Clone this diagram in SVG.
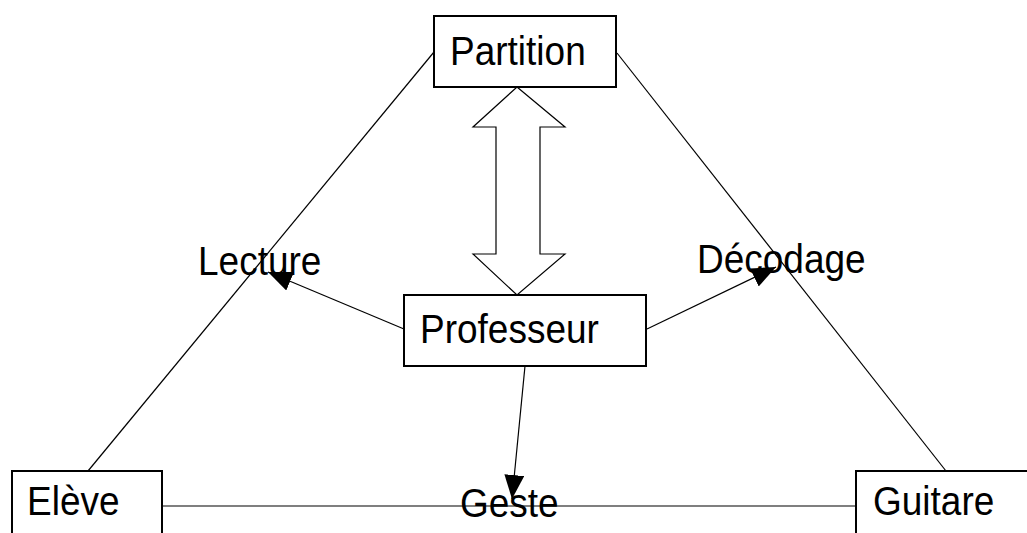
<svg xmlns="http://www.w3.org/2000/svg" width="1027" height="533" viewBox="0 0 1027 533">
<style>
.box{fill:#fff;stroke:#000;stroke-width:2}
.lbl{font-family:"Liberation Sans",Arial,sans-serif;font-size:37px;fill:#000}
.ln{stroke:#000;stroke-width:1.2;fill:none}
</style>
<defs>
<marker id="ah" markerUnits="userSpaceOnUse" markerWidth="26" markerHeight="22" refX="24" refY="10" orient="auto">
<path d="M0,0 L24,10 L0,20 Z" fill="#000"/>
</marker>
</defs>
<rect width="1027" height="533" fill="#fff"/>
<g id="connectors">
<line class="ln" x1="434" y1="52" x2="88" y2="471"/>
<line class="ln" x1="617" y1="53" x2="946" y2="471"/>
<line class="ln" x1="162" y1="506" x2="856" y2="506" stroke-width="1.6"/>
<polygon class="ln" points="517,87 565,127 540,127 540,254 565,254 517,295 473,254 496,254 496,127 473,127"/>
<line class="ln" x1="404" y1="329" x2="268" y2="272" marker-end="url(#ah)"/>
<line class="ln" x1="647" y1="329" x2="776" y2="267" marker-end="url(#ah)"/>
<line class="ln" x1="525" y1="366" x2="512" y2="499" marker-end="url(#ah)"/>
</g>
<g id="partition">
<rect class="box" x="434" y="16" width="182" height="71"/>
<text class="lbl" transform="translate(450,65) scale(1,1.08)">Partition</text>
</g>
<g id="professeur">
<rect class="box" x="404" y="295" width="242" height="71"/>
<text class="lbl" transform="translate(420,343) scale(1,1.08)">Professeur</text>
</g>
<g id="eleve">
<rect class="box" x="12" y="471" width="150" height="80"/>
<text class="lbl" transform="translate(27,515) scale(1,1.08)">Elève</text>
</g>
<g id="guitare">
<rect class="box" x="856" y="471" width="190" height="80"/>
<text class="lbl" transform="translate(873,515) scale(1,1.08)">Guitare</text>
</g>
<g id="lecture">
<text class="lbl" transform="translate(198,275) scale(1,1.08)">Lecture</text>
</g>
<g id="decodage">
<text class="lbl" transform="translate(697,273) scale(1,1.08)">Décodage</text>
</g>
<g id="geste">
<text class="lbl" transform="translate(460,517) scale(1,1.08)">Geste</text>
</g>
</svg>
